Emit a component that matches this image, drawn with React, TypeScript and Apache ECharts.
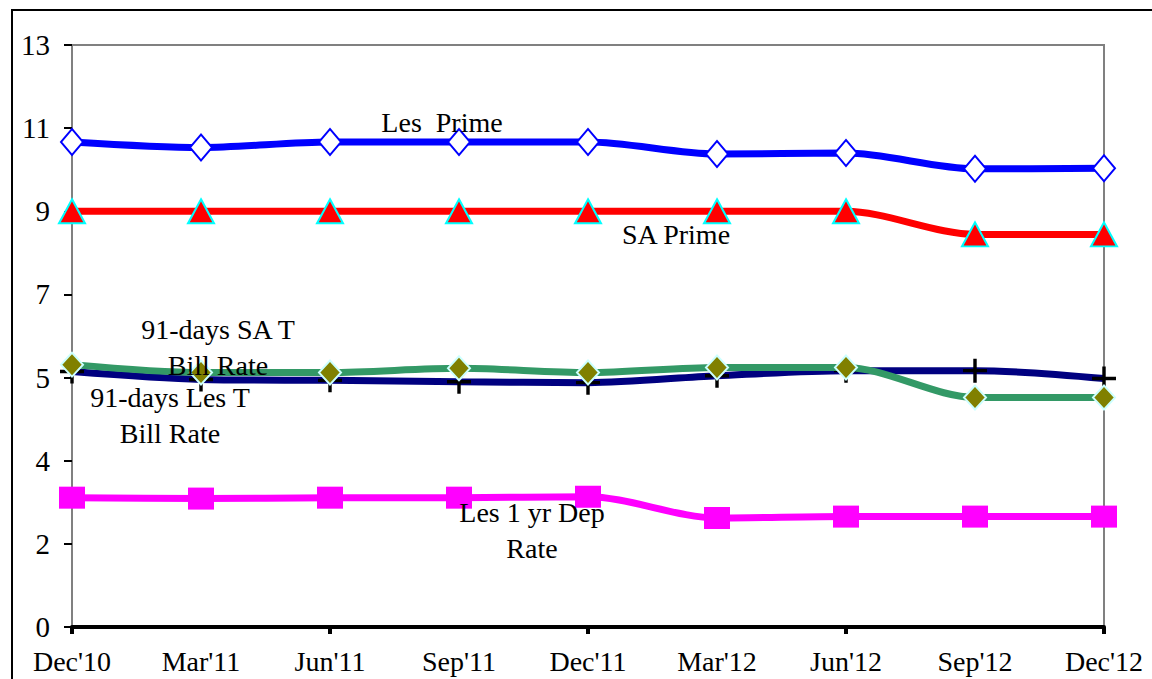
import React, { useEffect, useRef } from "react";
import * as echarts from "echarts";

const categories = ["Dec'10", "Mar'11", "Jun'11", "Sep'11", "Dec'11", "Mar'12", "Jun'12", "Sep'12", "Dec'12"];
const lesPrime = [10.5, 10.38, 10.5, 10.5, 10.5, 10.24, 10.26, 9.92, 9.93];
const saPrime = [9.0, 9.0, 9.0, 9.0, 9.0, 9.0, 9.0, 8.5, 8.5];
const lesTBill = [5.53, 5.36, 5.34, 5.31, 5.29, 5.44, 5.55, 5.55, 5.38];
const saTBill = [5.68, 5.51, 5.51, 5.6, 5.51, 5.62, 5.62, 4.97, 4.97];
const lesDep = [2.8, 2.78, 2.8, 2.8, 2.82, 2.36, 2.39, 2.39, 2.39];
const yTickLabels = ["0", "2", "4", "5", "7", "9", "11", "13"];
const yMin = 0;
const yMax = 12.6;
const yStep = 1.8;

const FONT = "'Liberation Serif', 'DejaVu Serif', serif";

export default function App() {
  const ref = useRef<HTMLDivElement>(null);
  useEffect(() => {
    document.body.style.margin = "0";
    const chart = echarts.init(ref.current!, null, { renderer: "svg" });
    const plus = "path://M9,0h3v9h9v3h-9v9h-3v-9h-9v-3h9z";
    const textStyle = { fill: "#000", font: `28px ${FONT}`, textAlign: "center", textVerticalAlign: "middle", lineHeight: 36 };
    chart.setOption({
      animation: false,
      backgroundColor: "#fff",
      grid: { left: 72, right: 48, top: 45, bottom: 52, show: true, borderColor: "#808080", borderWidth: 2, backgroundColor: "transparent" },
      xAxis: {
        type: "category",
        data: categories,
        boundaryGap: false,
        axisLine: { lineStyle: { color: "#000", width: 4 } },
        axisTick: { show: true, interval: 1, length: 7, lineStyle: { color: "#000", width: 4 } },
        axisLabel: { interval: 0, color: "#000", fontFamily: FONT, fontSize: 28, margin: 20 },
        splitLine: { show: false },
      },
      yAxis: {
        type: "value",
        min: yMin,
        max: yMax,
        interval: yStep,
        axisLine: { show: true, lineStyle: { color: "#808080", width: 2 } },
        axisTick: { show: true, length: 8, lineStyle: { color: "#000", width: 2 } },
        axisLabel: {
          color: "#000",
          fontFamily: FONT,
          fontSize: 29,
          margin: 22,
          formatter: (v: number) => yTickLabels[Math.round(v / yStep)] ?? "",
        },
        splitLine: { show: false },
      },
      series: [
        {
          name: "Les Prime",
          type: "line",
          data: lesPrime,
          smooth: 0.3,
          lineStyle: { color: "#0000FF", width: 7 },
          symbol: "diamond",
          symbolSize: [22, 26],
          itemStyle: { color: "#fff", borderColor: "#0000FF", borderWidth: 2 },
          z: 2,
        },
        {
          name: "SA Prime",
          type: "line",
          data: saPrime,
          smooth: 0.3,
          lineStyle: { color: "#FF0000", width: 7 },
          symbol: "triangle",
          symbolSize: [26, 24],
          itemStyle: { color: "#FF0000", borderColor: "#00FFFF", borderWidth: 2 },
          z: 2,
        },
        {
          name: "91-days Les T Bill Rate",
          type: "line",
          data: lesTBill,
          smooth: 0.3,
          lineStyle: { color: "#000080", width: 7 },
          symbol: plus,
          symbolSize: 24,
          itemStyle: { color: "#000", borderWidth: 0 },
          z: 2,
        },
        {
          name: "91-days SA T Bill Rate",
          type: "line",
          data: saTBill,
          smooth: 0.3,
          lineStyle: { color: "#339966", width: 7 },
          symbol: "diamond",
          symbolSize: [22, 24],
          itemStyle: { color: "#808000", borderColor: "#CCFFFF", borderWidth: 2 },
          z: 3,
        },
        {
          name: "Les 1 yr Dep Rate",
          type: "line",
          data: lesDep,
          smooth: 0.3,
          lineStyle: { color: "#FF00FF", width: 7 },
          symbol: "rect",
          symbolSize: [26, 22],
          itemStyle: { color: "#FF00FF", borderWidth: 0 },
          z: 3,
        },
      ],
      graphic: [
        { type: "rect", shape: { x: 12, y: 10, width: 1200, height: 720 }, style: { fill: "none", stroke: "#000", lineWidth: 2 }, z: 0, silent: true },
        { type: "text", x: 442, y: 122, style: { ...textStyle, text: "Les  Prime" }, z: 10 },
        { type: "text", x: 676, y: 234, style: { ...textStyle, text: "SA Prime" }, z: 10 },
        { type: "text", x: 218, y: 347, style: { ...textStyle, text: "91-days SA T\nBill Rate" }, z: 10 },
        { type: "text", x: 170, y: 415, style: { ...textStyle, text: "91-days Les T\nBill Rate" }, z: 10 },
        { type: "text", x: 532, y: 530, style: { ...textStyle, text: "Les 1 yr Dep\nRate" }, z: 10 },
      ],
    });
    return () => chart.dispose();
  }, []);
  return <div ref={ref} style={{ position: "fixed", left: 0, top: 0, width: 1152, height: 679 }} />;
}
